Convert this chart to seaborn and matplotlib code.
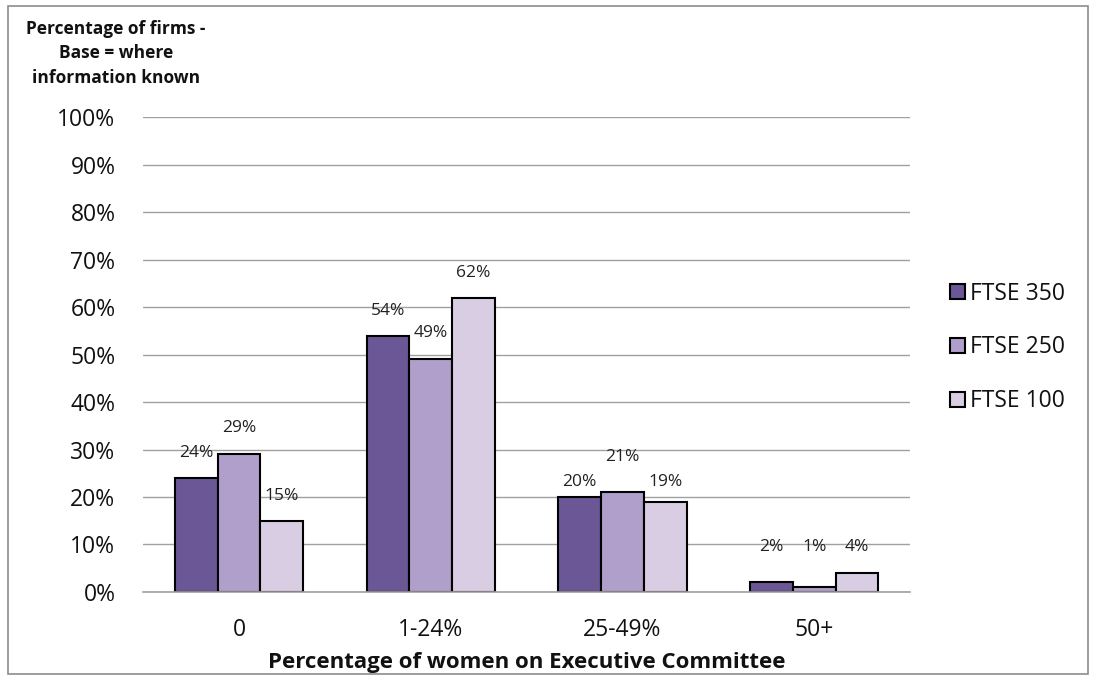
import matplotlib
matplotlib.use("Agg")
import matplotlib.pyplot as plt
import seaborn as sns
import pandas as pd
from matplotlib.patches import Rectangle
from matplotlib.ticker import FixedLocator

categories = ["0", "1-24%", "25-49%", "50+"]
series_names = ["FTSE 350", "FTSE 250", "FTSE 100"]
ftse350 = [24, 54, 20, 2]
ftse250 = [29, 49, 21, 1]
ftse100 = [15, 62, 19, 4]
colors = ["#6B5796", "#B09ECB", "#D9CDE3"]

# label gaps above bars (pixels), mimicking the original's label placement
label_gap_px = [
    [17, 17, 7, 27],
    [18, 18, 27, 32],
    [17, 17, 12, 18],
]

rows = []
for name, vals in zip(series_names, [ftse350, ftse250, ftse100]):
    for c, v in zip(categories, vals):
        rows.append({"cat": c, "series": name, "value": v})
df = pd.DataFrame(rows)

sns.set_theme(style="white")
plt.rcParams["font.family"] = ["Open Sans", "DejaVu Sans"]

fig = plt.figure(figsize=(10.93, 6.77), dpi=100)
ax = fig.add_axes([0.131, 0.1256, 0.7016, 0.7014])

sns.barplot(data=df, x="cat", y="value", hue="series", order=categories,
            hue_order=series_names, palette=colors, width=0.67, ax=ax,
            edgecolor="black", linewidth=1.5, saturation=1, legend=True)

for cont, gaps in zip(ax.containers, label_gap_px):
    for bar, gap in zip(cont, gaps):
        h = bar.get_height()
        ax.annotate(f"{int(round(h))}%", (bar.get_x() + bar.get_width() / 2, h),
                    xytext=(0, gap * 0.72), textcoords="offset points",
                    ha="center", va="bottom", fontsize=12.5, color="#222222")

ax.set_ylim(0, 100)
ax.set_xlim(-0.5, 3.5)
ax.set_yticks(range(0, 101, 10))
ax.set_yticklabels([f"{t}%" for t in range(0, 101, 10)])
ax.yaxis.grid(True, color="#A0A0A0", linewidth=1)
ax.set_axisbelow(True)
for s in ["top", "right", "left"]:
    ax.spines[s].set_visible(False)
ax.spines["bottom"].set_color("#A0A0A0")
ax.spines["bottom"].set_linewidth(1.2)
ax.tick_params(axis="y", length=12, color="#A0A0A0", width=1, labelsize=16.5, pad=8,
               labelcolor="#111111")
ax.tick_params(axis="x", which="major", length=0, labelsize=16.5, pad=19,
               labelcolor="#111111")
ax.xaxis.set_minor_locator(FixedLocator([-0.5, 0.5, 1.5, 2.5, 3.5]))
ax.tick_params(axis="x", which="minor", length=8, color="#A0A0A0", width=1.2, direction="out")
ax.set_xlabel("Percentage of women on Executive Committee", fontsize=16,
              fontweight="bold", labelpad=7, color="#111111")
ax.set_ylabel("")

leg = ax.legend(loc="center left", bbox_to_anchor=(1.025, 0.515), frameon=False,
                fontsize=16.5, handlelength=0.65, handleheight=0.65,
                handletextpad=0.25, labelspacing=1.3)
for h in leg.legend_handles:
    h.set_edgecolor("black")
    h.set_linewidth(1.5)
for t in leg.get_texts():
    t.set_color("#111111")

fig.text(0.106, 0.921, "Percentage of firms -\nBase = where\ninformation known",
         ha="center", va="center", fontsize=12.5, fontweight="bold",
         linespacing=1.45, color="#111111")

fig.patches.append(Rectangle((0.007, 0.004), 0.988, 0.987, transform=fig.transFigure,
                             fill=False, edgecolor="#8C8C8C", linewidth=1.2))

fig.savefig("out.png", dpi=100)
